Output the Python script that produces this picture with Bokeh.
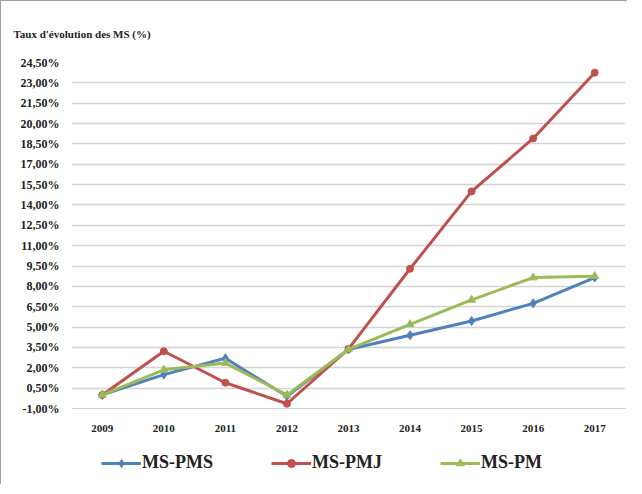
from bokeh.plotting import figure
from bokeh.layouts import column
from bokeh.models import (ColumnDataSource, FixedTicker, Legend, LegendItem,
                          Title, Range1d)
from bokeh.embed import file_html
from bokeh.resources import INLINE

years = ["2009", "2010", "2011", "2012", "2013", "2014", "2015", "2016", "2017"]
ms_pms = [0.0, 1.5, 2.7, -0.1, 3.35, 4.4, 5.45, 6.75, 8.65]
ms_pmj = [0.0, 3.22, 0.9, -0.65, 3.4, 9.3, 15.0, 18.9, 23.75]
ms_pm = [0.0, 1.85, 2.35, 0.0, 3.35, 5.2, 7.0, 8.65, 8.75]
y_ticks = [-1.0, 0.5, 2.0, 3.5, 5.0, 6.5, 8.0, 9.5, 11.0, 12.5, 14.0, 15.5,
           17.0, 18.5, 20.0, 21.5, 23.0, 24.5]
y_tick_labels = ["-1,00%", "0,50%", "2,00%", "3,50%", "5,00%", "6,50%", "8,00%",
                 "9,50%", "11,00%", "12,50%", "14,00%", "15,50%", "17,00%",
                 "18,50%", "20,00%", "21,50%", "23,00%", "24,50%"]
title_text = "Taux d'évolution des MS (%)"
series_names = ["MS-PMS", "MS-PMJ", "MS-PM"]

FONT = "Liberation Serif"
colors = ["#4F81BD", "#C0504D", "#9BBB59"]
cols = ["pms", "pmj", "pm"]
markers = ["diamond", "circle", "triangle"]
sizes = [9, 7, 8]

p = figure(frame_width=554, frame_height=346, x_range=years,
           y_range=(y_ticks[0], y_ticks[-1]),
           output_backend="svg", toolbar_location=None,
           min_border_left=70, min_border_right=2, min_border_top=61,
           min_border_bottom=34)
p.outline_line_color = None

t = Title(text=title_text, text_font=FONT, text_font_size="11px",
          text_font_style="bold", align="left", offset=-58, standoff=46,
          text_color="#222222")
p.add_layout(t, "above")

src = ColumnDataSource(dict(x=years, pms=ms_pms, pmj=ms_pmj, pm=ms_pm))

for col, c, m, s in zip(cols, colors, markers, sizes):
    p.line("x", col, source=src, line_color=c, line_width=3)
    p.scatter("x", col, source=src, marker=m, size=s, fill_color=c, line_color=c)

p.yaxis.ticker = FixedTicker(ticks=y_ticks)
p.yaxis.major_label_overrides = {v: l for v, l in zip(y_ticks, y_tick_labels)}
p.yaxis.axis_line_color = None
p.yaxis.major_tick_line_color = None
p.yaxis.minor_tick_line_color = None
p.yaxis.major_label_standoff = 6
p.yaxis.major_label_text_font = FONT
p.yaxis.major_label_text_font_size = "12px"
p.yaxis.major_label_text_font_style = "bold"
p.yaxis.major_label_text_color = "#222222"

p.xaxis.axis_line_color = "#d0d0d0"
p.xaxis.major_tick_line_color = None
p.xaxis.minor_tick_line_color = None
p.xaxis.major_label_standoff = 10
p.xaxis.major_label_text_font = FONT
p.xaxis.major_label_text_font_size = "11px"
p.xaxis.major_label_text_font_style = "bold"
p.xaxis.major_label_text_color = "#222222"

p.xgrid.grid_line_color = None
p.ygrid.grid_line_color = "#d4d4d4"
p.ygrid.grid_line_width = 1.5

# Legend strip below the chart
lg = figure(width=626, height=42, x_range=p.x_range, y_range=Range1d(100, 101),
            output_backend="svg", toolbar_location=None,
            min_border=0)
lg.axis.visible = False
lg.grid.visible = False
lg.outline_line_color = None
items = []
for name, col, c, m, s in zip(series_names, cols, colors, markers, sizes):
    r1 = lg.line("x", col, source=src, line_color=c, line_width=3)
    r2 = lg.scatter("x", col, source=src, marker=m, size=s, fill_color=c,
                    line_color=c)
    items.append(LegendItem(label=name, renderers=[r1, r2]))

legend = Legend(items=items, orientation="horizontal", location=(30, 11),
                label_text_font=FONT, label_text_font_size="18px",
                label_text_font_style="bold", label_text_color="#222222",
                glyph_width=40, spacing=58, border_line_color=None,
                background_fill_alpha=0, margin=0, padding=0,
                label_standoff=1, label_height=20, glyph_height=20)
lg.add_layout(legend, "center")

layout = column(p, lg, spacing=0)
layout.styles = {"border-left": "1px solid #a0a0a0", "border-top": "1px solid #a0a0a0"}

open("out.html", "w").write(file_html(layout, INLINE))
